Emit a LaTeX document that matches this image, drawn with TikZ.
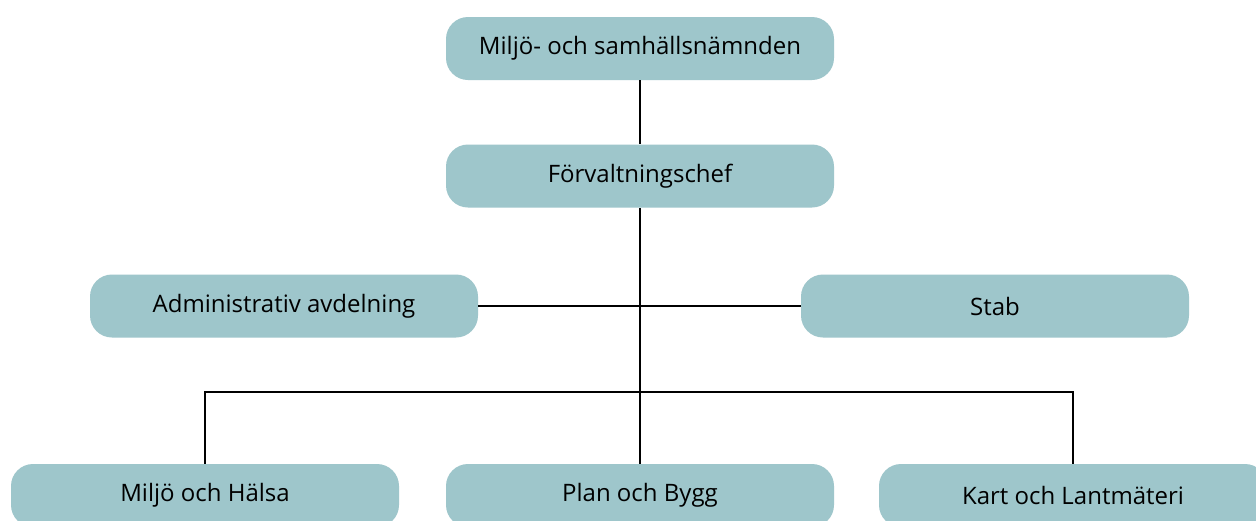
\documentclass[tikz,border=0pt]{standalone}
\usepackage{fontspec}
\setmainfont{Open Sans}

\tikzset{
    enhet/.style={draw=none, fill=enhetsfarg, rounded corners=11pt,
        minimum width=194pt, minimum height=31.5pt, inner sep=0pt,
        font=\fontsize{12}{14}\selectfont, text=black},
    linje/.style={draw=black, line width=0.8pt}
}
\definecolor{enhetsfarg}{RGB}{158,198,203}

\begin{document}
\begin{tikzpicture}[x=0.5pt,y=-0.5pt]
                \clip (0,0) rectangle (1256,520);
                \fill[white] (0,0) rectangle (1256,520);

                \node[enhet] (namnd) at (640,48.5) {Miljö- och samhällsnämnden};
                \node[enhet] (chef) at (640,176) {Förvaltningschef};
                \node[enhet] (admin) at (284,306) {Administrativ avdelning};
                \node[enhet] (stab) at (995,306) {Stab};

                \node[enhet] (miljo) at (205,495.5) {Miljö och Hälsa};
                \node[enhet] (plan) at (640,495.5) {Plan och Bygg};
                \node[enhet] (kart) at (1073,495.5) {Kart och Lantmäteri};

                \coordinate (buss) at (640,392);

                \draw[linje] (namnd) -- (chef);
                \draw[linje] (chef) -- (plan);
                \draw[linje] (admin) -- (stab);
                \draw[linje] (miljo.north) |- (buss) -| (kart.north);
            \end{tikzpicture}
\end{document}
